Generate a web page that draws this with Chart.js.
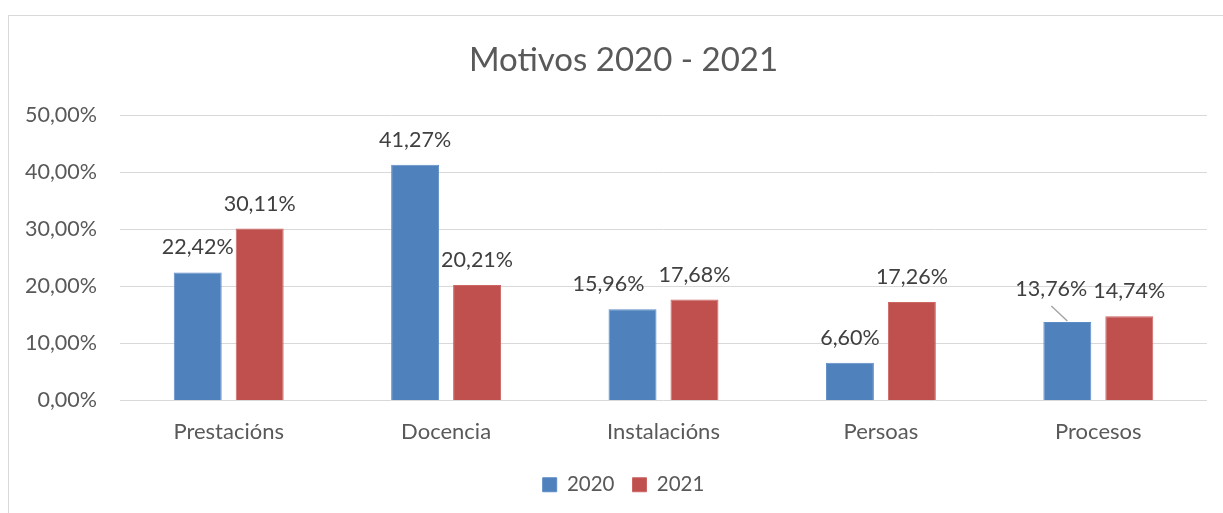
<!DOCTYPE html>
<html>
<head>
<meta charset="utf-8">
<script src="https://cdn.jsdelivr.net/npm/chart.js@4/dist/chart.umd.min.js"></script>
<style>
  html, body { margin: 0; padding: 0; background: #ffffff; overflow: hidden; width: 1223px; height: 513px; }
  #frame { position: absolute; left: 8px; top: 15px; width: 1300px; height: 600px; border: 1px solid #d9d9d9; box-sizing: border-box; }
  #c { position: absolute; left: 0; top: 0; }
</style>
</head>
<body>
<div id="frame"></div>
<canvas id="c" width="1247" height="513"></canvas>
<script>
const categories = ['Prestacións', 'Docencia', 'Instalacións', 'Persoas', 'Procesos'];
const seriesNames = ['2020', '2021'];
const values2020 = [22.42, 41.27, 15.96, 6.60, 13.76];
const values2021 = [30.11, 20.21, 17.68, 17.26, 14.74];
const yTickValues = [0, 10, 20, 30, 40, 50];
const yTickLabels = ['0,00%', '10,00%', '20,00%', '30,00%', '40,00%', '50,00%'];

const fmt = v => v.toFixed(2).replace('.', ',') + '%';

const labelPlugin = {
  id: 'barLabels',
  afterDatasetsDraw(chart) {
    const ctx = chart.ctx;
    ctx.save();
    ctx.font = '21.5px Lato';
    ctx.fillStyle = '#404040';
    ctx.textAlign = 'center';
    ctx.textBaseline = 'alphabetic';
    const shifts = chart.options.plugins.barLabels.shifts || {};
    chart.data.datasets.forEach((ds, di) => {
      const meta = chart.getDatasetMeta(di);
      meta.data.forEach((bar, i) => {
        const key = di + ':' + i;
        const s = shifts[key];
        let x = bar.x, y = bar.y - 18;
        if (s) {
          x += s.dx; y += s.dy;
          if (s.leader) {
            ctx.save();
            ctx.strokeStyle = '#a6a6a6';
            ctx.lineWidth = 1.5;
            ctx.beginPath();
            ctx.moveTo(x, y + 10);
            ctx.lineTo(bar.x, bar.y - 1);
            ctx.stroke();
            ctx.restore();
          }
        }
        ctx.fillText(fmt(ds.data[i]), x, y);
      });
    });
    ctx.restore();
  }
};

new Chart(document.getElementById('c'), {
  type: 'bar',
  data: {
    labels: categories,
    datasets: [
      { label: seriesNames[0], data: values2020, backgroundColor: '#4f81bd', borderColor: '#5b8cc6', borderWidth: 1 },
      { label: seriesNames[1], data: values2021, backgroundColor: '#c0504d', borderColor: '#cb6663', borderWidth: 1 }
    ]
  },
  options: {
    responsive: false,
    animation: false,
    devicePixelRatio: 1,
    layout: { padding: { left: 0, right: 0, top: 0, bottom: 8 } },
    datasets: { bar: { categoryPercentage: 0.57, barPercentage: 0.774 } },
    plugins: {
      title: {
        display: true,
        text: 'Motivos 2020 - 2021',
        color: '#595959',
        font: { family: 'Lato', size: 33, weight: 'normal', lineHeight: 1.2 },
        padding: { top: 41, bottom: 34.4 }
      },
      legend: {
        position: 'bottom',
        labels: {
          color: '#595959',
          font: { family: 'Lato', size: 20.5 },
          boxWidth: 14,
          boxHeight: 14,
          padding: 18
        }
      },
      tooltip: { enabled: false },
      barLabels: { shifts: {
        '0:2': { dx: -24, dy: 0, leader: false },
        '0:4': { dx: -16, dy: -8, leader: true }
      } }
    },
    scales: {
      x: {
        grid: { display: false, drawTicks: false },
        border: { display: false },
        ticks: { color: '#595959', font: { family: 'Lato', size: 22 }, padding: 18 },
        afterFit: s => { s.height = 56; }
      },
      y: {
        min: 0,
        max: 50,
        afterBuildTicks: s => { s.ticks = yTickValues.map(v => ({ value: v })); },
        grid: { color: '#d9d9d9', lineWidth: 1, drawTicks: false },
        border: { display: false },
        ticks: {
          color: '#595959',
          font: { family: 'Lato', size: 21.5 },
          padding: 23,
          callback: (v) => yTickLabels[yTickValues.indexOf(v)]
        },
        afterFit: s => { s.width = 120; }
      },
      yRight: {
        position: 'right',
        display: true,
        grid: { display: false, drawTicks: false },
        border: { display: false },
        ticks: { display: false },
        afterFit: s => { s.width = 40; }
      }
    }
  },
  plugins: [labelPlugin]
});
</script>
</body>
</html>
